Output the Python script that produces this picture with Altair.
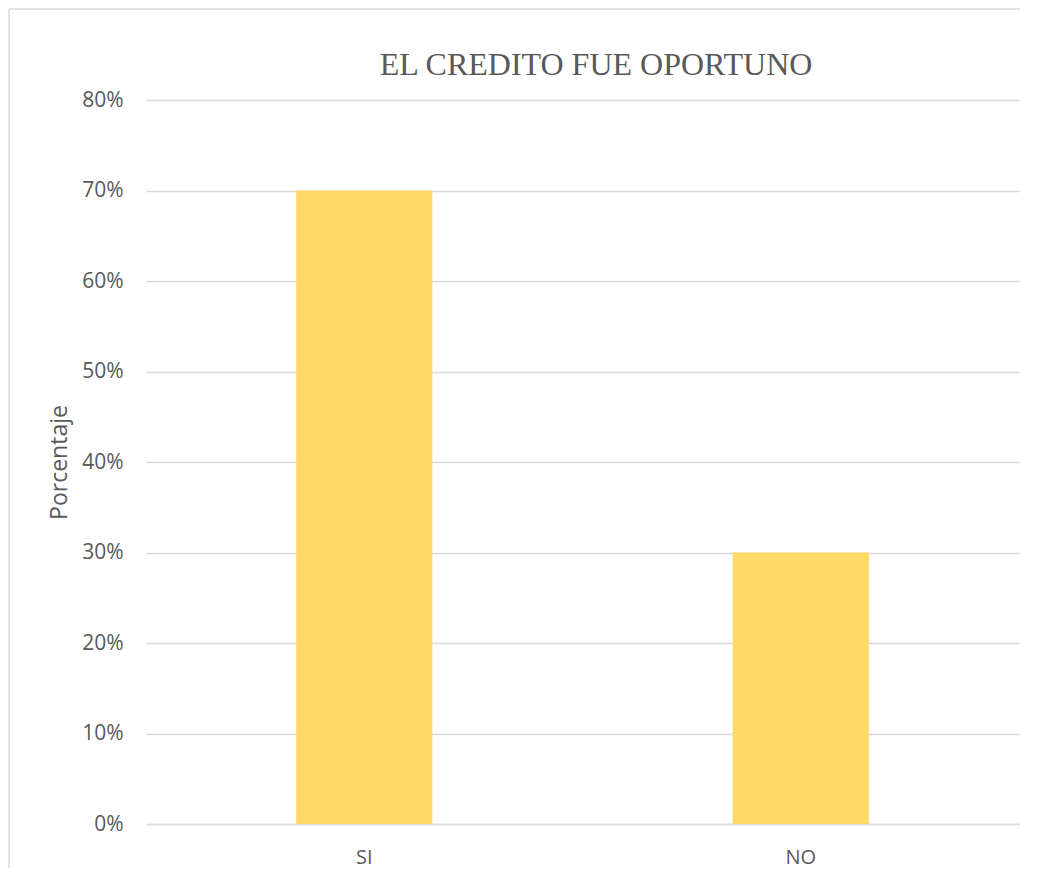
import altair as alt
import pandas as pd

categories = ["SI", "NO"]
values = [0.70, 0.30]
title_text = ["EL CREDITO FUE OPORTUNO"]

df = pd.DataFrame({"cat": categories, "pct": values})
df_title = pd.DataFrame({"t": title_text})

W, H = 873, 724

bars = alt.Chart(df).mark_bar(color="#FFD966").encode(
    x=alt.X("cat:N", sort=categories,
            scale=alt.Scale(paddingInner=0.688, paddingOuter=0.344),
            axis=alt.Axis(title=None, labelAngle=0, ticks=False, domain=True,
                          domainColor="#D9D9D9", domainWidth=1.5,
                          labelFont="Open Sans", labelFontSize=20,
                          labelColor="#595959", labelPadding=23)),
    y=alt.Y("pct:Q", scale=alt.Scale(domain=[0, 0.8], nice=False),
            axis=alt.Axis(title="Porcentaje", format=".0%", values=[i / 10 for i in range(9)],
                          ticks=False, domain=False, grid=True,
                          gridColor="#D9D9D9", gridWidth=1.5,
                          labelFont="Open Sans", labelFontSize=21,
                          labelColor="#595959", labelPadding=23,
                          titleFont="Open Sans", titleFontSize=23,
                          titleFontWeight="normal", titleColor="#595959",
                          titleAngle=-90, titleX=-87, titleY=H / 2,
                          titleAlign="center", titleBaseline="middle")),
)

title = alt.Chart(df_title).mark_text(
    font="Liberation Serif", fontSize=32, color="#595959",
    align="center", baseline="alphabetic"
).encode(text="t:N", x=alt.value(450), y=alt.value(-25))

top_edge = alt.Chart(df_title).mark_rule(color="#D9D9D9", strokeWidth=1.5).encode(
    x=alt.value(-137), x2=alt.value(874), y=alt.value(-91), y2=alt.value(-91)
)
left_edge = alt.Chart(df_title).mark_rule(color="#D9D9D9", strokeWidth=1.5).encode(
    x=alt.value(-137), x2=alt.value(-137), y=alt.value(-91), y2=alt.value(768)
)

chart = alt.layer(top_edge, left_edge, bars, title).properties(
    width=W, height=H,
    autosize=alt.AutoSizeParams(type="none"),
    padding={"left": 138, "top": 92, "right": 10, "bottom": 46},
).configure(background="white").configure_view(stroke=None)

chart.save("out.html", embed_options={"renderer": "svg", "actions": False})
